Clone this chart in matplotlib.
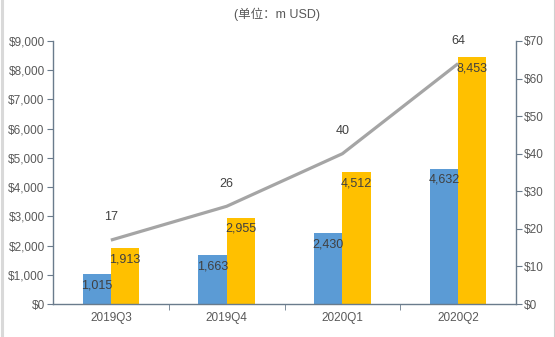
import numpy as np
import matplotlib.pyplot as plt
from matplotlib.ticker import FuncFormatter, FixedLocator
from matplotlib.lines import Line2D

plt.rcParams['font.family'] = ['Liberation Sans', 'Noto Sans CJK SC', 'DejaVu Sans']

# Quarterly figures (m USD)
quarters = ['2019Q3', '2019Q4', '2020Q1', '2020Q2']
blue_vals = [1015, 1663, 2430, 4632]
gold_vals = [1913, 2955, 4512, 8453]
line_vals = [17, 26, 40, 64]

c_blue = '#5B9BD5'
c_gold = '#FFC000'
c_line = '#A5A5A5'
c_axis = '#6A7B8C'
c_text = '#595959'
c_label = '#404040'

fig = plt.figure(figsize=(5.55, 3.37), dpi=100)
ax = fig.add_axes([53/555, 1 - 304/337, 463/555, 263/337])
ax2 = ax.twinx()

x = np.arange(len(quarters))
w = 0.245
off = 0.1225
ax.bar(x - off, blue_vals, w, color=c_blue, zorder=2)
ax.bar(x + off, gold_vals, w, color=c_gold, zorder=2)

for xi, v in zip(x, blue_vals):
    ax.text(xi - off, v - 180, f'{v:,}', ha='center', va='top',
            fontsize=9, color=c_label, zorder=4)
for xi, v in zip(x, gold_vals):
    ax.text(xi + off, v - 180, f'{v:,}', ha='center', va='top',
            fontsize=9, color=c_label, zorder=4)

ax.set_xlim(-0.5, 3.5)
ax.set_ylim(0, 9000)
ax.set_yticks(np.arange(0, 9001, 1000))
ax.yaxis.set_major_formatter(FuncFormatter(lambda v, p: f'${int(v):,}'))
ax.set_xticks(x)
ax.set_xticklabels(quarters)
ax.xaxis.set_minor_locator(FixedLocator([0.5, 1.5, 2.5]))
ax.tick_params(axis='x', which='major', length=0, pad=6, labelsize=8.5, labelcolor=c_text)
ax.tick_params(axis='x', which='minor', length=4, color=c_axis, direction='out')
ax.tick_params(axis='y', length=4, color=c_axis, labelsize=8.5, labelcolor=c_text, pad=2)

# line on secondary axis
ax2.set_ylim(0, 70)
ax2.set_yticks(np.arange(0, 71, 10))
ax2.yaxis.set_major_formatter(FuncFormatter(lambda v, p: f'${int(v)}'))
ax2.tick_params(axis='y', length=4, color=c_axis, labelsize=8.5, labelcolor=c_text, pad=2)
ax2.plot(x, line_vals, color=c_line, lw=2.3, zorder=3, solid_capstyle='butt')
for xi, v in zip(x, line_vals):
    ax2.annotate(str(v), (xi, v), xytext=(0, 12), textcoords='offset points',
                 ha='center', va='bottom', fontsize=9, color=c_label)

for a in (ax, ax2):
    a.spines['top'].set_visible(False)
    for s in ('left', 'right', 'bottom'):
        a.spines[s].set_color(c_axis)
        a.spines[s].set_linewidth(1.0)
ax.spines['right'].set_visible(False)
ax2.spines['left'].set_visible(False)
ax2.spines['bottom'].set_visible(False)

fig.text(0.5, 1 - 14/337, '(单位：m USD)', ha='center', va='center',
         fontsize=9, color=c_text)

# outer frame edges
fig.add_artist(Line2D([1.5/555, 1.5/555], [0, 1], color='#D9D9D9', lw=2.2,
                      transform=fig.transFigure))
fig.add_artist(Line2D([553.5/555, 553.5/555], [0, 1], color='#D0D0D0', lw=0.8,
                      transform=fig.transFigure))

fig.savefig('out.png', dpi=100)
